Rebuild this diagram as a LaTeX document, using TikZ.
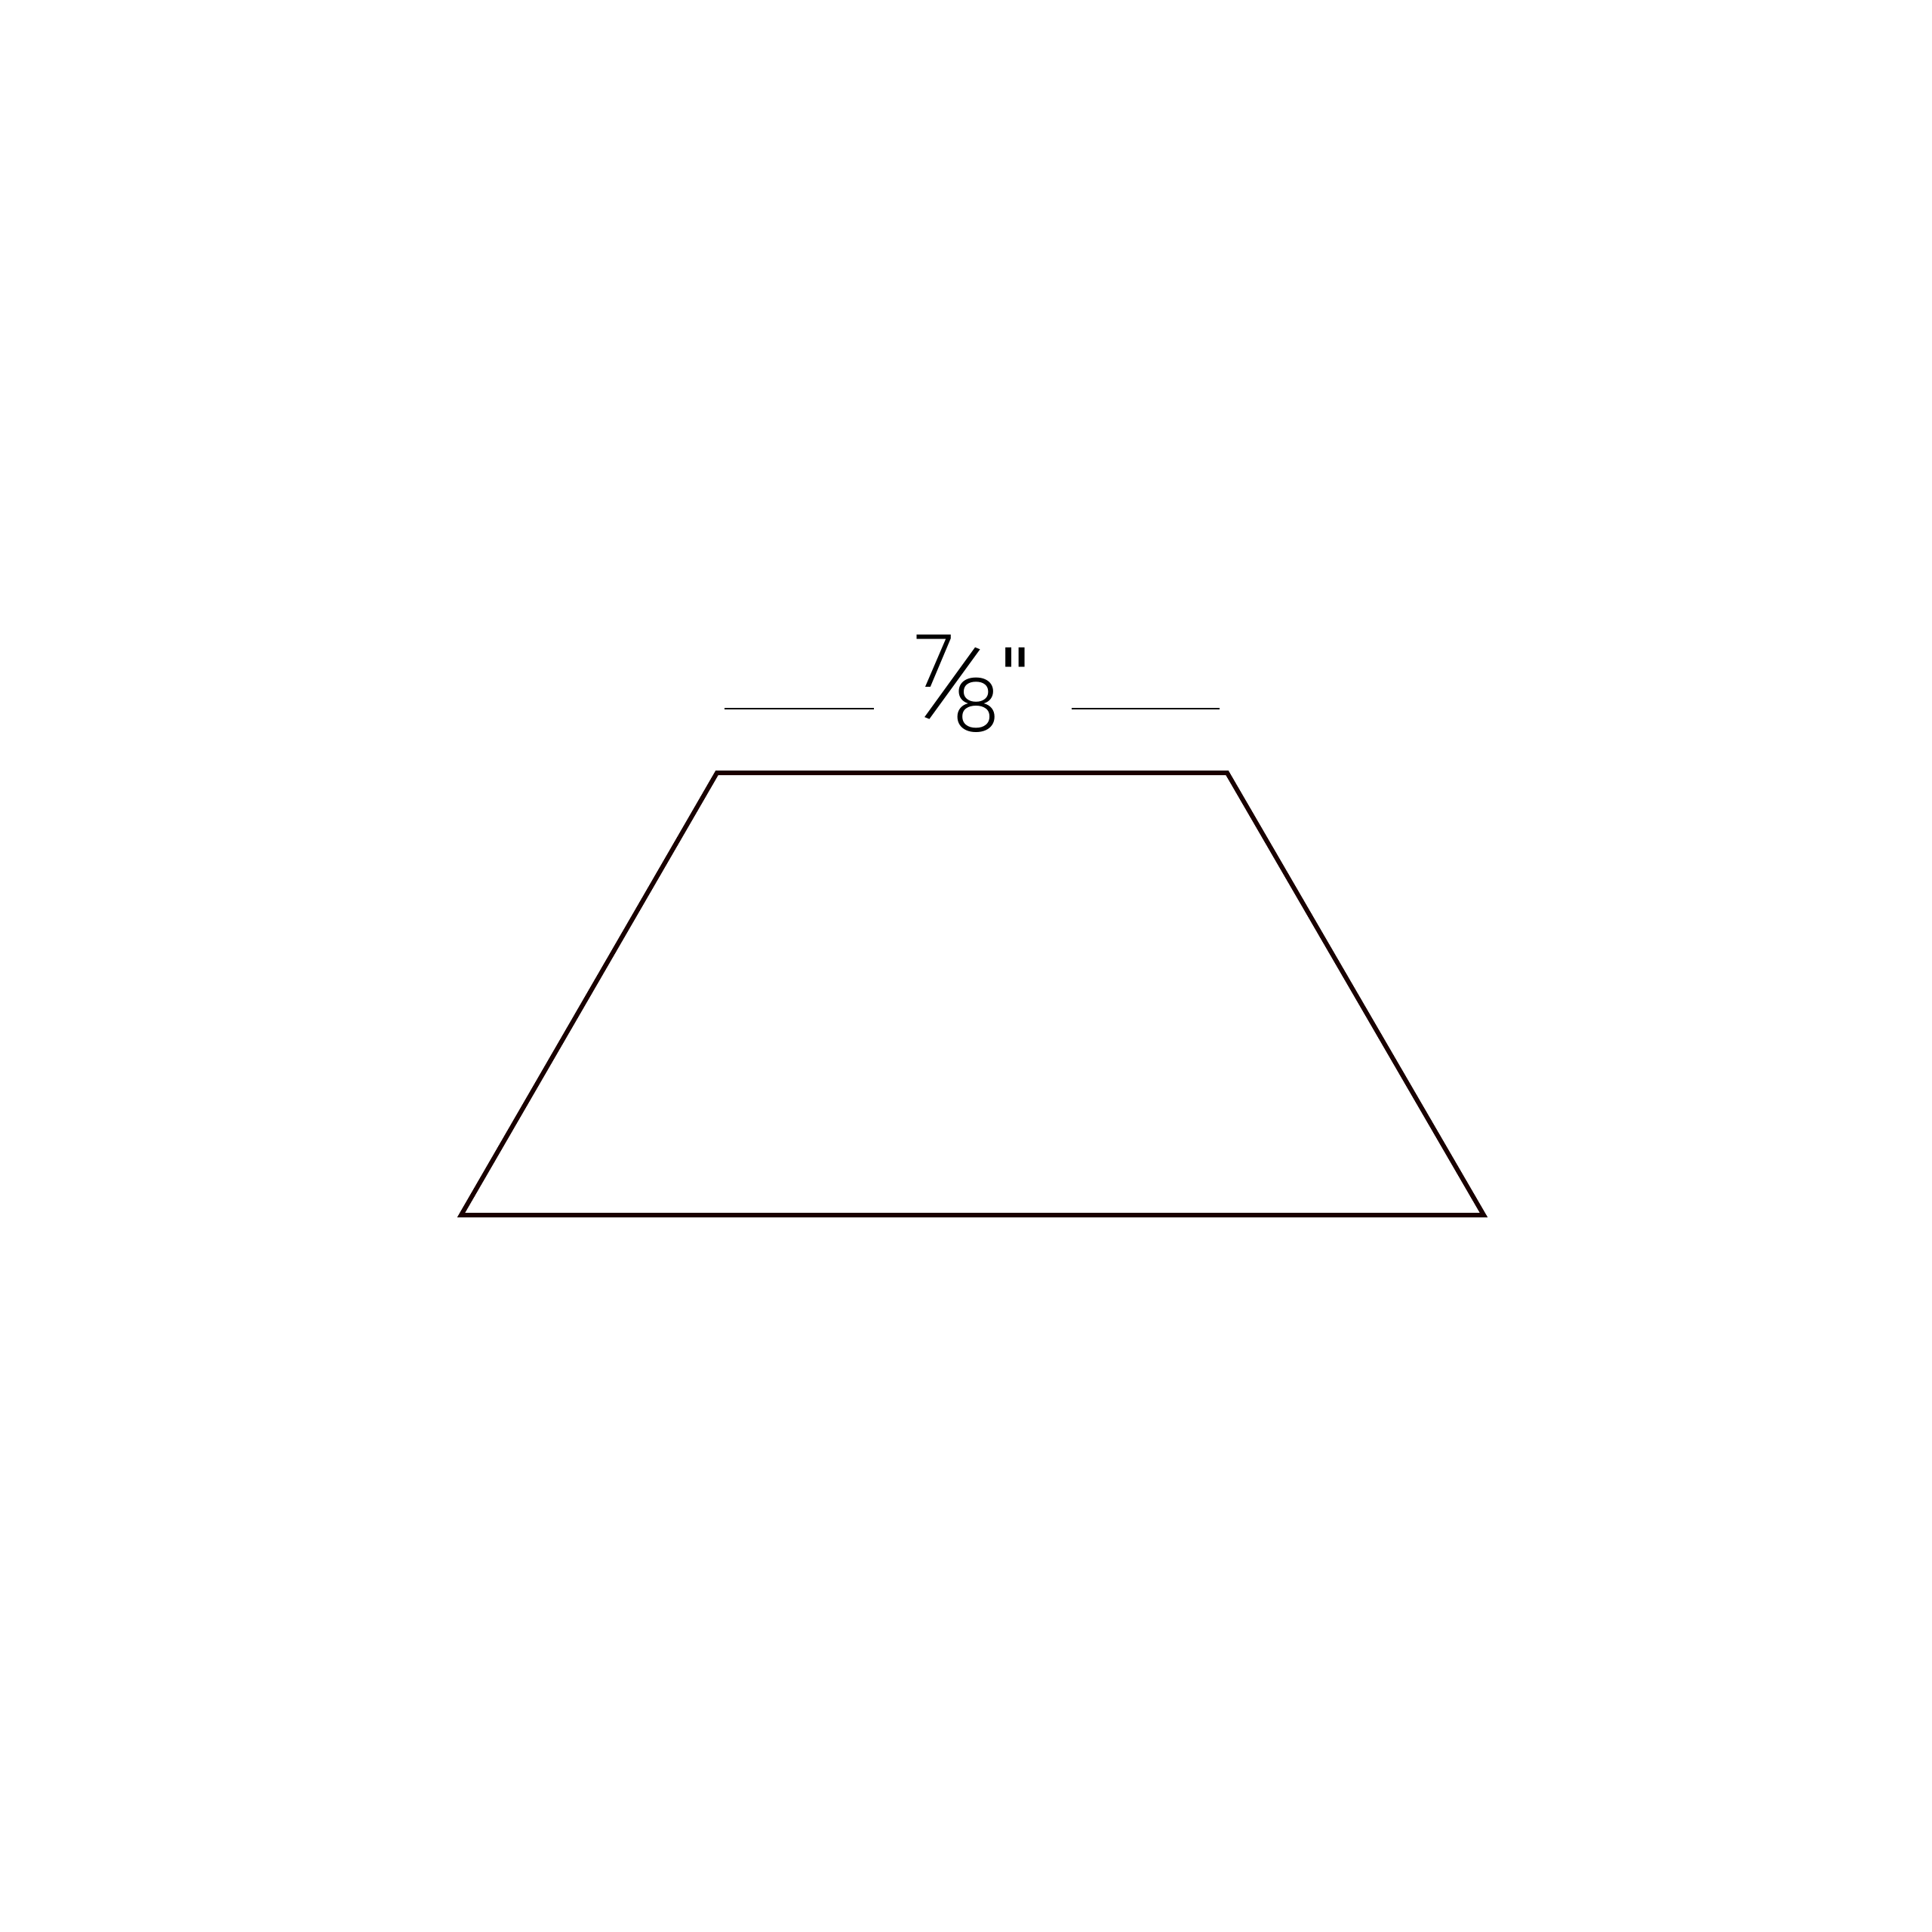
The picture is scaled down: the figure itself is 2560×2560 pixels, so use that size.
\documentclass[tikz,border=0pt]{standalone}
\usepackage{fontspec}
\setmainfont{Poppins}[UprightFont=* Light]
\newfontfamily\quotefont{DejaVu Sans}
\begin{document}
\begin{tikzpicture}[x=0.01cm,y=-0.01cm,
  trapline/.style={draw=black!90!red,line width=1.7pt,line join=miter},
  dimline/.style={draw=black,line width=0.55pt},
  fig/.style={inner sep=0pt,outer sep=0pt,font=\fontsize{27.5}{30}\selectfont,text=black}]
\useasboundingbox (0,0) rectangle (2560,2560);
\coordinate (tl) at (950,1024);
\coordinate (tr) at (1626,1024);
\coordinate (br) at (1966,1610);
\coordinate (bl) at (611,1610);
\draw[trapline] (tl) -- (tr) -- (br) -- (bl) -- cycle;
\coordinate (l1) at (960,939);
\coordinate (l2) at (1158,939);
\coordinate (r1) at (1420,939);
\coordinate (r2) at (1616,939);
\draw[dimline] (l1) -- (l2);
\draw[dimline] (r1) -- (r2);
\node[fig,anchor=base] (seven) at (1238,910) {7};
\node[fig,anchor=base] (eight) at (1294,968) {8};
\node[fig,font=\fontsize{28.5}{30}\selectfont,rotate=-22] (slash) at (1263,906) {/};
\node[fig,anchor=north,font=\quotefont\fontsize{27}{30}\selectfont] (quote) at (1345,858) {"};
\end{tikzpicture}
\end{document}
